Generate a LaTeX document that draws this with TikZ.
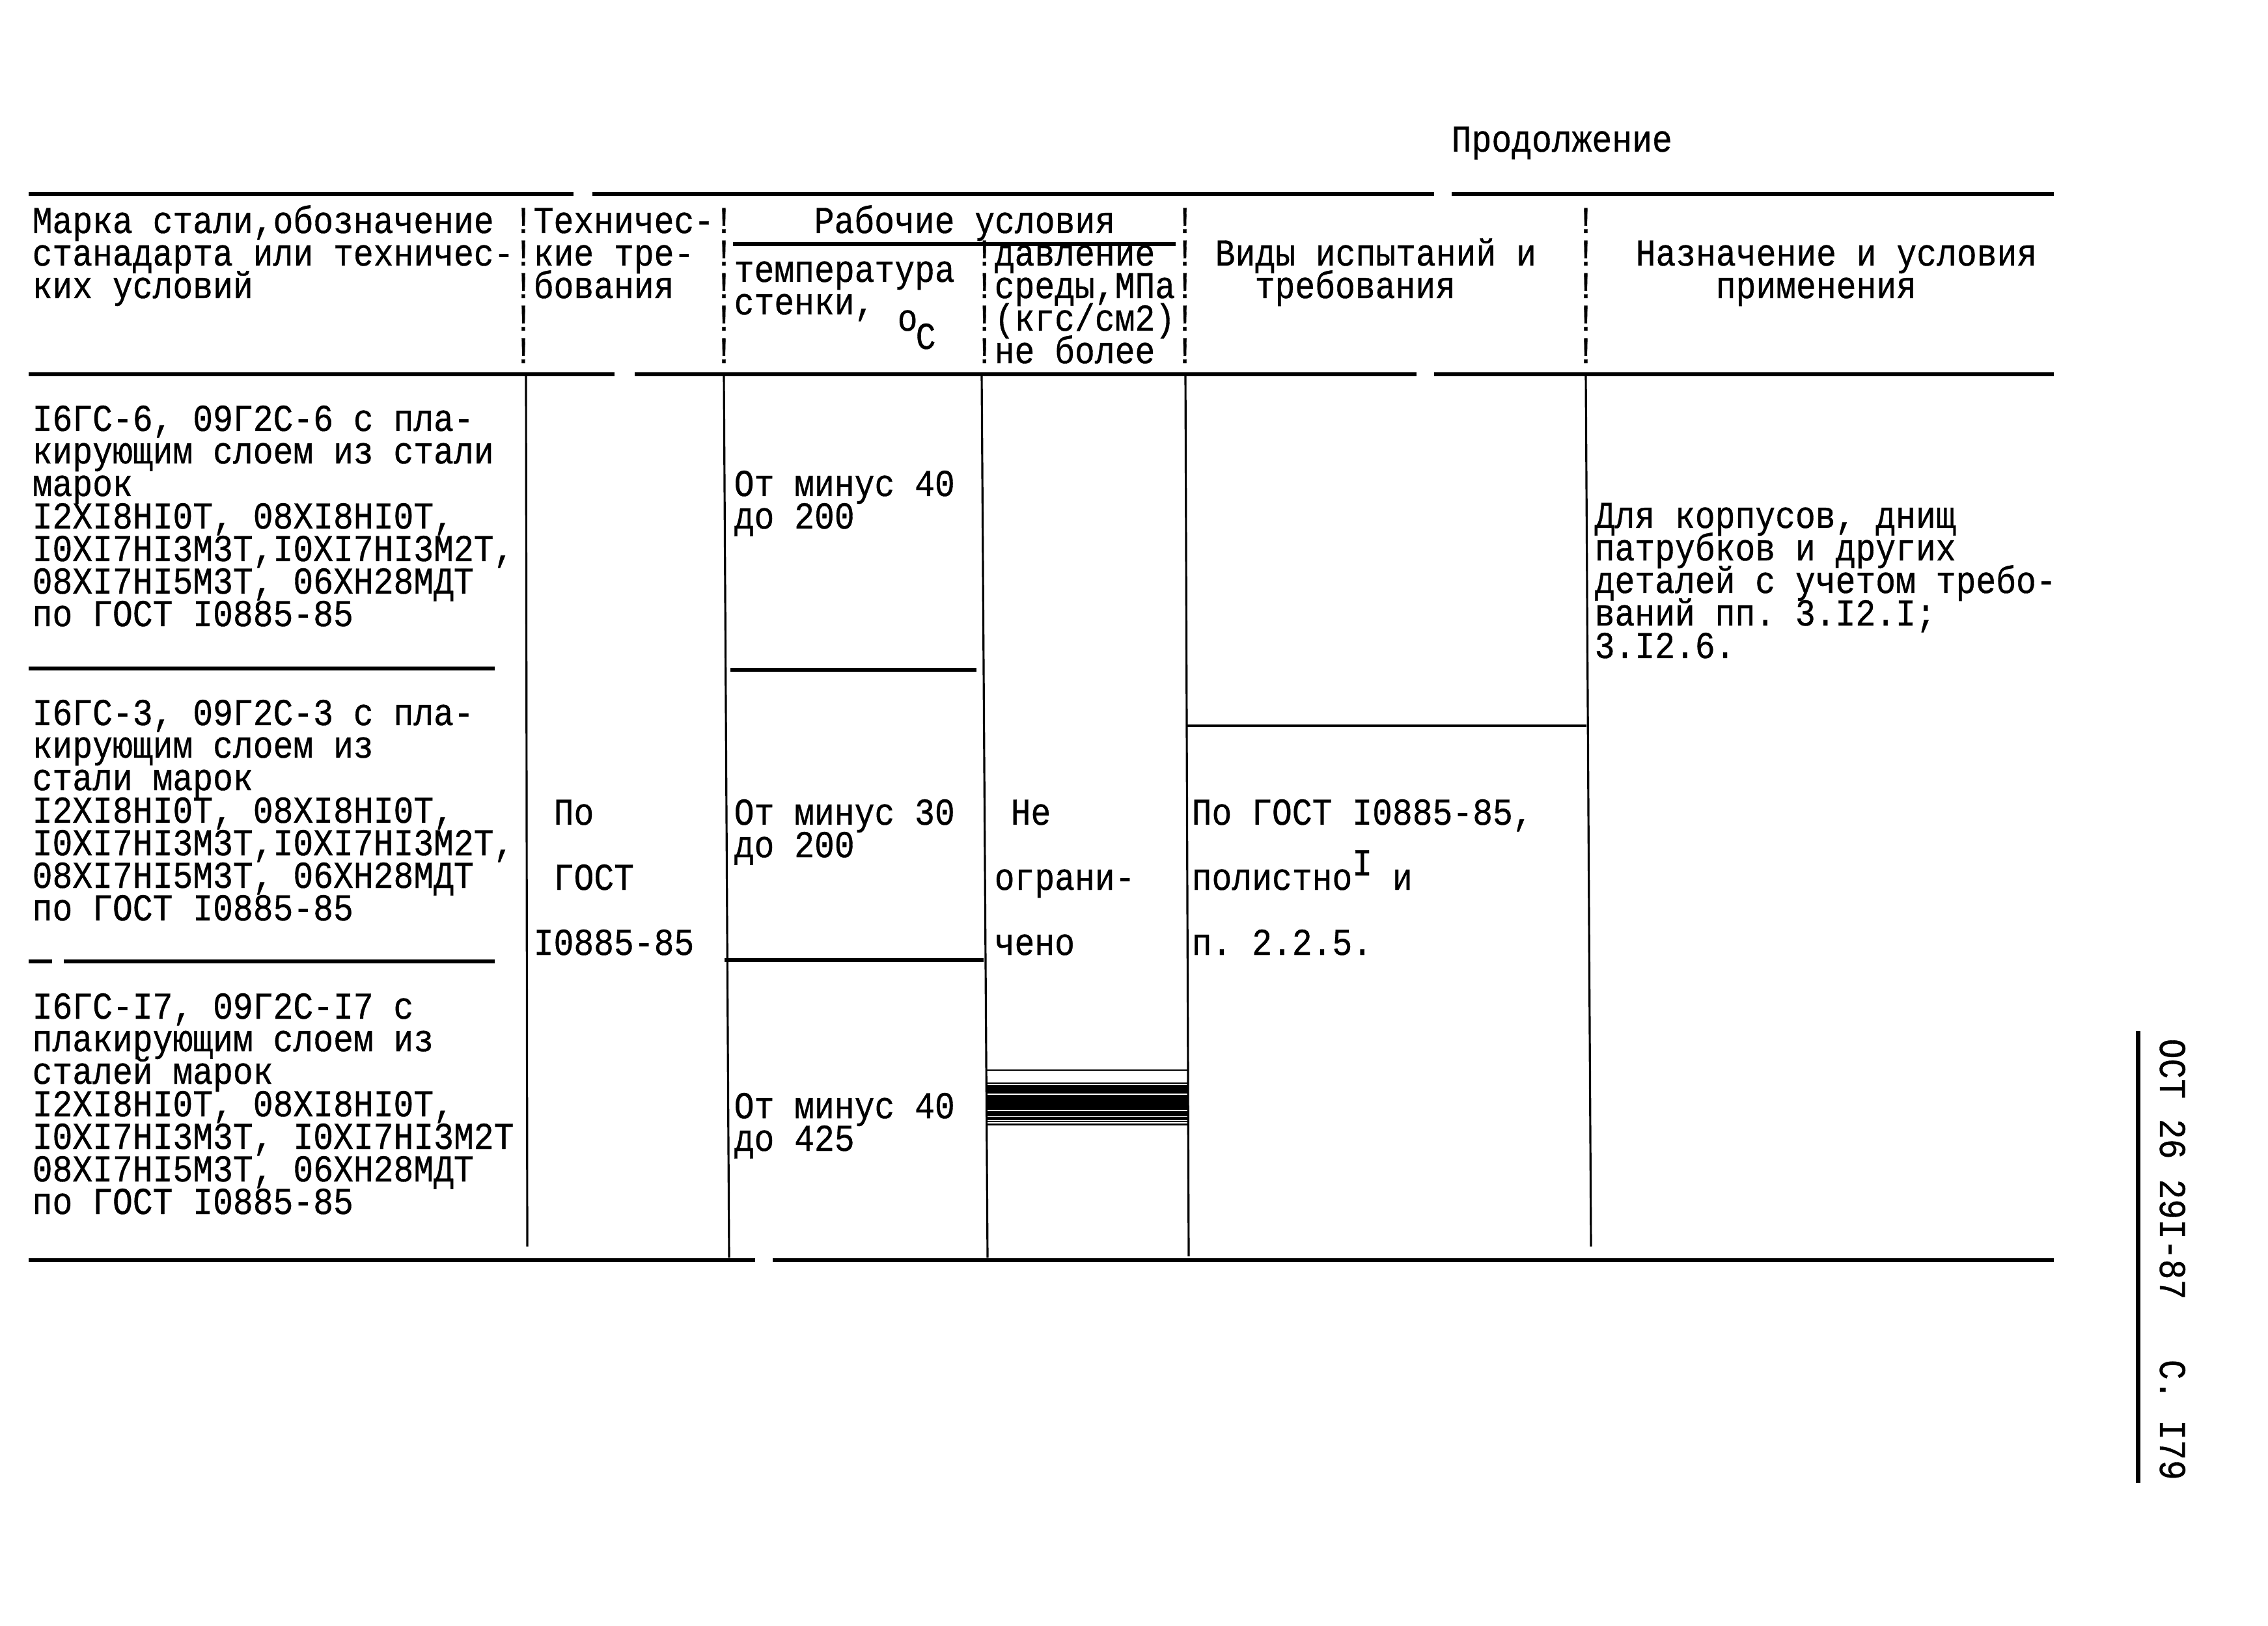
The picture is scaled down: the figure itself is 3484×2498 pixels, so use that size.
\documentclass[tikz,border=0pt]{standalone}
\usepackage{fontspec}
\setmonofont[FakeStretch=0.88,FakeBold=0.6]{Liberation Mono}
\begin{document}
\begin{tikzpicture}[x=0.01cm,y=-0.01cm,
  every node/.style={font=\ttfamily\frenchspacing\fontsize{16.6}{14.3}\selectfont},
  txt/.style={anchor=base west,inner sep=0pt},
  thickrule/.style={line width=1.6pt},
  cellline/.style={line width=0.9pt}]
\useasboundingbox (0,0) rectangle (3484,2498);

\node[txt] (title) at (2229,233) {Продолжение};

% head rules
\draw[thickrule] (44,298) -- (881,298);
\draw[thickrule] (910,298) -- (2203,298);
\draw[thickrule] (2230,298) -- (3155,298);
\draw[thickrule] (1126,375) -- (1806,375);
\draw[thickrule] (44,575) -- (944,575);
\draw[thickrule] (975,575) -- (2176,575);
\draw[thickrule] (2203,575) -- (3155,575);

% typed column marks
\foreach \c in {24,34,57,77} {
  \foreach \r in {358,408,458,508,558}
    \node[txt] (ex\c-\r) at ({49+\c*30.79},\r) {!};
}
\foreach \r in {408,458,508,558}
  \node[txt] (ex47-\r) at ({49+47*30.79},\r) {!};

% head texts
\node[txt] (hmark1) at (49,358) {Марка стали,обозначение};
\node[txt] (hmark2) at (49,408) {станадарта или техничес-};
\node[txt] (hmark3) at (49,458) {ких условий};
\node[txt] (htech1) at (819,358) {Техничес-};
\node[txt] (htech2) at (819,408) {кие тре-};
\node[txt] (htech3) at (819,458) {бования};
\node[txt] (hwork) at (1250,358) {Рабочие условия};
\node[txt] (htemp1) at (1127,433) {температура};
\node[txt] (htemp2) at (1127,483) {стенки,};
\node[txt] (hdeg) at (1378,508) {o};
\node[txt] (hcel) at (1406,536) {C};
\foreach \ln [count=\k from 0] in {давление,{среды,МПа},(кгс/см2),не более}
  \node[txt] (hpres\k) at (1527,408+\k*50) {\ln};
\node[txt] (htest1) at (1866,408) {Виды испытаний и};
\node[txt] (htest2) at (1927,458) {требования};
\node[txt] (hpurp1) at (2512,408) {Назначение и условия};
\node[txt] (hpurp2) at (2635,458) {применения};

% body lines
\draw[cellline] (808,575) -- (810,1915);
\draw[cellline] (1112,575) -- (1120,1932);
\draw[cellline] (1508,575) -- (1517,1932);
\draw[cellline] (1821,575) -- (1826,1930);
\draw[cellline] (2436,575) -- (2444,1915);
\draw[thickrule] (44,1027) -- (760,1027);
\draw[thickrule] (1122,1029) -- (1500,1029);
\draw[thickrule] (44,1477) -- (80,1477);
\draw[thickrule] (98,1477) -- (760,1477);
\draw[thickrule] (1113,1475) -- (1511,1475);
\draw[cellline] (1824,1115) -- (2437,1115);
\draw[thickrule] (44,1936) -- (1160,1936);
\draw[thickrule] (1187,1936) -- (3155,1936);

% steel grades
\foreach \ln [count=\k from 0] in {{I6ГС-6, 09Г2С-6 с пла-},{кирующим слоем из стали},марок,
    {I2ХI8НI0Т, 08ХI8НI0Т,},{I0ХI7НI3М3Т,I0ХI7НI3М2Т,},{08ХI7НI5М3Т, 06ХН28МДТ},по ГОСТ I0885-85}
  \node[txt] (gra\k) at (49,662+\k*50) {\ln};
\foreach \ln [count=\k from 0] in {{I6ГС-3, 09Г2С-3 с пла-},кирующим слоем из,стали марок,
    {I2ХI8НI0Т, 08ХI8НI0Т,},{I0ХI7НI3М3Т,I0ХI7НI3М2Т,},{08ХI7НI5М3Т, 06ХН28МДТ},по ГОСТ I0885-85}
  \node[txt] (grb\k) at (49,1114+\k*50) {\ln};
\foreach \ln [count=\k from 0] in {{I6ГС-I7, 09Г2С-I7 с},плакирующим слоем из,сталей марок,
    {I2ХI8НI0Т, 08ХI8НI0Т,},{I0ХI7НI3М3Т, I0ХI7НI3М2Т},{08ХI7НI5М3Т, 06ХН28МДТ},по ГОСТ I0885-85}
  \node[txt] (grc\k) at (49,1565+\k*50) {\ln};

% requirements
\node[txt] (req1) at (850,1267) {По};
\node[txt] (req2) at (850,1367) {ГОСТ};
\node[txt] (req3) at (819,1467) {I0885-85};

% temperatures
\node[txt] (ta1) at (1127,762) {От минус 40};
\node[txt] (ta2) at (1127,812) {до 200};
\node[txt] (tb1) at (1127,1267) {От минус 30};
\node[txt] (tb2) at (1127,1317) {до 200};
\node[txt] (tc1) at (1127,1718) {От минус 40};
\node[txt] (tc2) at (1127,1768) {до 425};

% pressure
\node[txt] (pr1) at (1552,1267) {Не};
\node[txt] (pr2) at (1527,1367) {ограни-};
\node[txt] (pr3) at (1527,1467) {чено};
\foreach \a/\b in {1643/1645,1663/1665,1667/1680,1682/1705,1707/1715,1716/1721,1722/1723.5,1724.5/1726,1727/1729}
  \fill (1516,\a) rectangle (1825,\b);

% tests
\node[txt] (te1) at (1830,1267) {По ГОСТ I0885-85,};
\node[txt] (te2) at (1830,1367) {полистно\raisebox{6.3pt}{I} и};
\node[txt] (te3) at (1830,1467) {п. 2.2.5.};

% purpose
\foreach \ln [count=\k from 0] in {{Для корпусов, днищ},патрубков и других,деталей с учетом требо-,
    ваний пп. 3.I2.I;,3.I2.6.}
  \node[txt] (pu\k) at (2449,811+\k*50) {\ln};

% page stamp
\draw[line width=2pt] (3284,1584) -- (3284,2278);
\node[txt,rotate=-90] (stamp) at (3318,1595) {ОСТ 26 29I-87~~~С. I79};

\end{tikzpicture}
\end{document}
